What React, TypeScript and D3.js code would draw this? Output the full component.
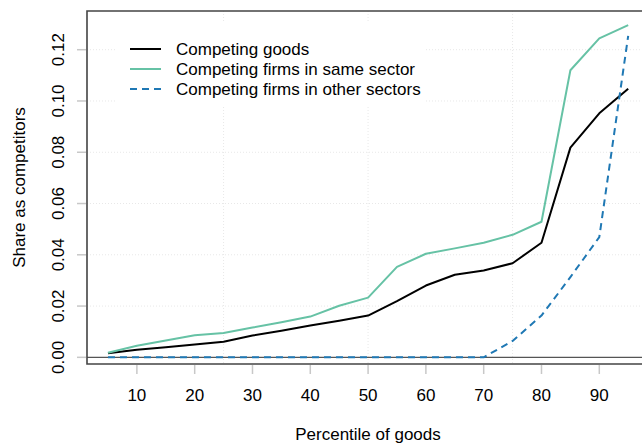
import React, { useEffect, useRef } from 'react';
import * as d3 from 'd3';

// percentiles of goods
const percentiles = [5, 10, 15, 20, 25, 30, 35, 40, 45, 50, 55, 60, 65, 70, 75, 80, 85, 90, 95];

// share as competitors
const competingGoods = [0.0016, 0.003, 0.0039, 0.005, 0.0061, 0.0085, 0.0104, 0.0124, 0.0143, 0.0163, 0.0219, 0.028, 0.0322, 0.0339, 0.0367, 0.0447, 0.0818, 0.0952, 0.1048];
const sameSector = [0.0018, 0.0045, 0.0066, 0.0086, 0.0095, 0.0116, 0.0137, 0.0159, 0.0201, 0.0233, 0.0353, 0.0404, 0.0425, 0.0447, 0.0478, 0.0529, 0.112, 0.1244, 0.1296];
const otherSectors = [0, 0, 0, 0, 0, 0, 0, 0, 0, 0, 0, 0, 0, 0, 0.0064, 0.0163, 0.0313, 0.0469, 0.1254];

const xTicks = [10, 20, 30, 40, 50, 60, 70, 80, 90];
const yTicks = [0, 0.02, 0.04, 0.06, 0.08, 0.1, 0.12];
const xGrid = [25, 50, 75];

const series = [
  { name: 'Competing goods', values: competingGoods, color: '#000000', dash: null },
  { name: 'Competing firms in same sector', values: sameSector, color: '#66c2a5', dash: null },
  { name: 'Competing firms in other sectors', values: otherSectors, color: '#1f78b4', dash: '7,5' },
];

const W = 642;
const H = 443;
const FONT = '"Liberation Sans", Arial, sans-serif';
const FS = 17;

export default function App() {
  const ref = useRef<SVGSVGElement>(null);

  useEffect(() => {
    const svg = d3.select(ref.current);
    svg.selectAll('*').remove();

    const box = { left: 87, right: 649, top: 11, bottom: 364 };
    const x = d3.scaleLinear().domain([1.37, 98.6]).range([box.left, box.right]);
    const y = d3.scaleLinear().domain([-0.0026, 0.1351]).range([box.bottom, box.top]);

    svg.append('rect').attr('width', W).attr('height', H).attr('fill', '#fff');

    // grid
    const grid = svg.append('g').attr('stroke', '#e8e8e8').attr('stroke-dasharray', '1,2').attr('stroke-width', 1);
    grid.selectAll('.gy')
      .data(yTicks.filter(d => d > 0))
      .join('line')
      .attr('x1', box.left).attr('x2', W)
      .attr('y1', d => y(d)).attr('y2', d => y(d));
    grid.selectAll('.gx')
      .data(xGrid)
      .join('line')
      .attr('y1', box.top).attr('y2', box.bottom)
      .attr('x1', d => x(d)).attr('x2', d => x(d));

    // legend background hides grid
    svg.append('rect')
      .attr('x', 116).attr('y', 22).attr('width', 309).attr('height', 85)
      .attr('fill', '#fff');

    // zero line
    svg.append('line')
      .attr('x1', box.left).attr('x2', W)
      .attr('y1', y(0)).attr('y2', y(0))
      .attr('stroke', '#555').attr('stroke-width', 1.3);

    // lines
    const line = d3.line<number>()
      .x((d, i) => x(percentiles[i]))
      .y(d => y(d));

    series.forEach(s => {
      svg.append('path')
        .attr('d', line(s.values))
        .attr('fill', 'none')
        .attr('stroke', s.color)
        .attr('stroke-width', 2)
        .attr('stroke-dasharray', s.dash)
        .attr('stroke-linejoin', 'round');
    });

    // box
    svg.append('path')
      .attr('d', `M${W},${box.top}H${box.left}V${box.bottom}H${W}`)
      .attr('fill', 'none')
      .attr('stroke', '#444')
      .attr('stroke-width', 1.6);

    // x axis
    const xAxis = svg.append('g');
    xAxis.selectAll('line')
      .data(xTicks)
      .join('line')
      .attr('x1', d => x(d)).attr('x2', d => x(d))
      .attr('y1', box.bottom + 1).attr('y2', box.bottom + 10)
      .attr('stroke', '#c8c8c8').attr('stroke-width', 1.5);
    xAxis.selectAll('text')
      .data(xTicks)
      .join('text')
      .attr('x', d => x(d)).attr('y', 401)
      .attr('text-anchor', 'middle')
      .attr('font-family', FONT).attr('font-size', FS)
      .text(d => d);

    // y axis
    const yAxis = svg.append('g');
    yAxis.selectAll('line')
      .data(yTicks)
      .join('line')
      .attr('x1', box.left - 10).attr('x2', box.left - 1)
      .attr('y1', d => y(d)).attr('y2', d => y(d))
      .attr('stroke', '#c8c8c8').attr('stroke-width', 1.5);
    yAxis.selectAll('text')
      .data(yTicks)
      .join('text')
      .attr('transform', d => `translate(63.5,${y(d)}) rotate(-90)`)
      .attr('text-anchor', 'middle')
      .attr('font-family', FONT).attr('font-size', FS)
      .text(d => d3.format('.2f')(d));

    // axis titles
    svg.append('text')
      .attr('x', 368).attr('y', 440)
      .attr('text-anchor', 'middle')
      .attr('font-family', FONT).attr('font-size', FS)
      .text('Percentile of goods');
    svg.append('text')
      .attr('transform', `translate(24.5,${(box.top + box.bottom) / 2}) rotate(-90)`)
      .attr('text-anchor', 'middle')
      .attr('font-family', FONT).attr('font-size', FS)
      .text('Share as competitors');

    // legend
    const legend = svg.append('g');
    series.forEach((s, i) => {
      const ly = 49 + i * 20;
      legend.append('line')
        .attr('x1', 130).attr('x2', 161)
        .attr('y1', ly).attr('y2', ly)
        .attr('stroke', s.color).attr('stroke-width', 2)
        .attr('stroke-dasharray', s.dash);
      legend.append('text')
        .attr('x', 176).attr('y', ly + 6)
        .attr('font-family', FONT).attr('font-size', FS)
        .text(s.name);
    });
  }, []);

  return (
    <svg
      ref={ref}
      width={W}
      height={H}
      style={{ position: 'absolute', left: 0, top: 0, display: 'block' }}
    />
  );
}
